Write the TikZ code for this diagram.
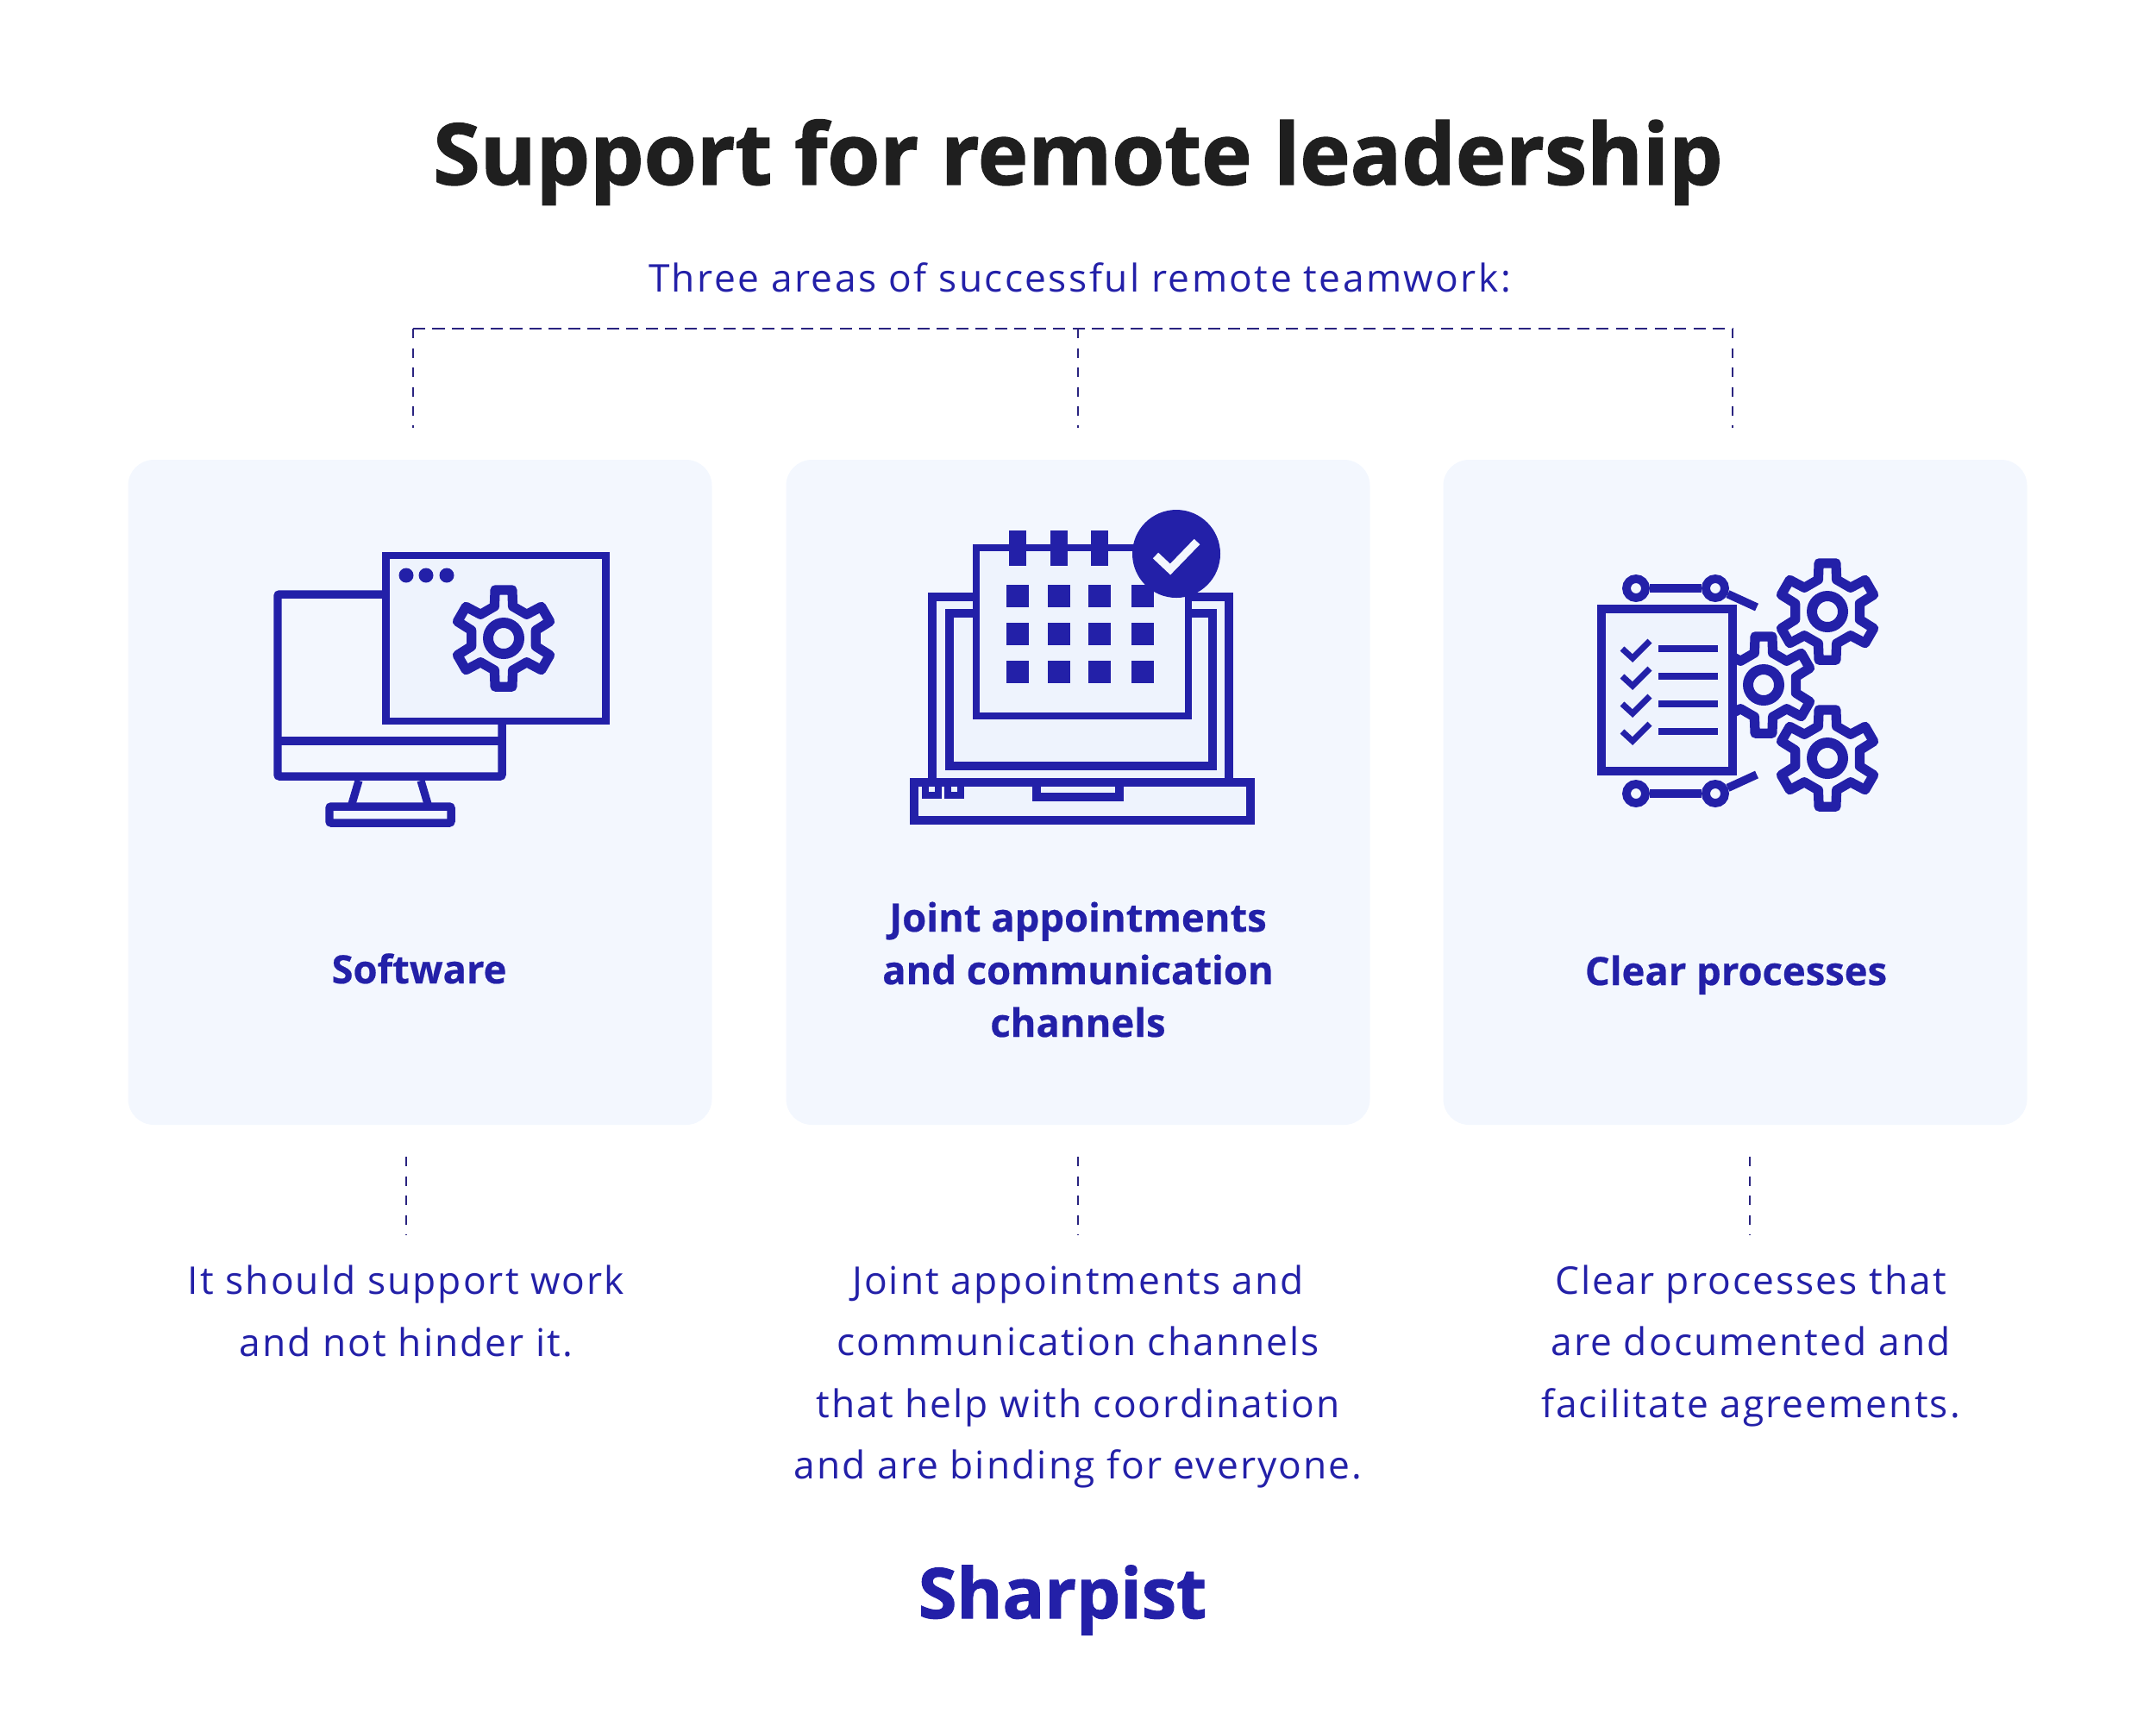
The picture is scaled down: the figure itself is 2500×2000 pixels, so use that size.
\documentclass[tikz,border=0pt]{standalone}
\usepackage{fontspec}
\setmainfont{Open Sans}
\newfontfamily\bodyfont[LetterSpace=4.7]{Open Sans}
\newfontfamily\leadfont[LetterSpace=5.5]{Open Sans}
\newfontfamily\heavyfont[BoldFeatures={FakeBold=1.4}]{Open Sans}
\newfontfamily\headfont[BoldFeatures={FakeBold=0.5}]{Open Sans}
\definecolor{inkblue}{HTML}{2320A8}
\definecolor{dashblue}{HTML}{2A2480}
\definecolor{cardfill}{HTML}{F3F7FE}
\definecolor{iconfill}{HTML}{EEF3FD}
\definecolor{titleink}{HTML}{1F1F1F}
\tikzset{
  card/.style={fill=cardfill, rounded corners=8.5pt, minimum width=6.77cm, minimum height=7.71cm, inner sep=0},
  guide/.style={dashblue, line width=0.6pt, dash pattern=on 3.2pt off 3.2pt},
  guidewide/.style={dashblue, line width=0.5pt, dash pattern=on 4pt off 2.4pt},
  heading/.style={inkblue, align=center, font=\headfont\bfseries\fontsize{12.9pt}{17.4pt}\selectfont},
  bodytext/.style={inkblue, align=center, font=\bodyfont\fontsize{12.6pt}{20.35pt}\selectfont},
  icon/.style={inkblue, line width=2.7pt, line join=miter},
  gearicon/.pic={
    \draw[inkblue, line width=3.2pt, line join=round] (14:38.5)
      \foreach \a in {30,90,150,210,270,330}{ -- (\a-16:38.5) -- (\a-10:57) -- (\a+10:57) -- (\a+16:38.5)} -- cycle;
    \draw[inkblue, line width=3.4pt] (0,0) circle (18);
  }
}
\begin{document}
\begin{tikzpicture}[x=0.1mm, y=-0.1mm]
\useasboundingbox (0,0) rectangle (2500,2000);
\node[titleink, font=\heavyfont\bfseries\fontsize{28.1pt}{34pt}\selectfont, anchor=base] (title) at (1250,214){Support for remote leadership};
\node[inkblue, font=\leadfont\fontsize{12.6pt}{15pt}\selectfont, anchor=base] (subtitle) at (1252,338){Three areas of successful remote teamwork:};
\coordinate (topleft) at (479,381);
\coordinate (topmid) at (1250,381);
\coordinate (topright) at (2009,381);
\coordinate (stubleft) at (479,496);
\coordinate (stubmid) at (1250,496);
\coordinate (stubright) at (2009,496);
\draw[guidewide] (topleft) -- (topright);
\draw[guide] (topleft) -- (stubleft);
\draw[guide, line width=0.8pt] (topmid) -- (stubmid);
\draw[guide] (topright) -- (stubright);
\node[card] (softcard) at (487,918.5){};
\node[card] (jointcard) at (1250,918.5){};
\node[card] (clearcard) at (2012,918.5){};
\node[heading, anchor=base] (softhead) at (486,1140){Software};
\node[heading, anchor=base] (jointhead) at (1250,1141){and communication};
\node[heading, anchor=base] (jointtop) at (1250,1080){Joint appointments};
\node[heading, anchor=base] (jointlow) at (1250,1202){channels};
\node[heading, anchor=base] (clearhead) at (2013,1142){Clear processes};
\coordinate (softa) at (471,1341);
\coordinate (softb) at (471,1431);
\coordinate (jointa) at (1250,1341);
\coordinate (jointb) at (1250,1431);
\coordinate (cleara) at (2029,1341);
\coordinate (clearb) at (2029,1431);
\draw[guide] (softa) -- (softb);
\draw[guide] (jointa) -- (jointb);
\draw[guide] (cleara) -- (clearb);
\node[bodytext, anchor=center] (softtext) at (471,1520){It should support work\\and not hinder it.};
\node[bodytext, anchor=center] (jointtext) at (1250,1596){Joint appointments and\\communication channels\\that help with coordination\\and are binding for everyone.};
\node[bodytext, anchor=center] (cleartext) at (2030,1560){Clear processes that\\are documented and\\facilitate agreements.};
\node[inkblue, font=\heavyfont\bfseries\fontsize{23pt}{28pt}\selectfont, anchor=base] (brand) at (1232,1876){Sharpist};
% software icon
\draw[icon, rounded corners=0.6pt] (322,689) rectangle (582,900);
\draw[icon] (322,859) -- (582,859);
\draw[icon, line width=2.6pt] (416,905) -- (408,932);
\draw[icon, line width=2.6pt] (488,905) -- (496,932);
\draw[icon, rounded corners=0.6pt] (382,935) rectangle (523,954);
\draw[icon, fill=iconfill, line width=2.4pt] (447.5,644) rectangle (702.5,836);
\fill[inkblue] (471,667) circle (8.5) (494,667) circle (8.5) (518,667) circle (8.5);
\pic at (584,740) {gearicon};
% calendar icon
\draw[icon, fill=iconfill] (1081,907) -- (1081,692) -- (1425,692) -- (1425,907);
\draw[icon, fill=iconfill] (1101,711) rectangle (1406,888);
\draw[icon, fill=iconfill] (1060,907) rectangle (1450,951);
\draw[icon] (1202,907) rectangle (1298,924);
\draw[icon, line width=2.1pt] (1073,907) -- (1073,922) -- (1088,922) -- (1088,907);
\draw[icon, line width=2.1pt] (1099,907) -- (1099,922) -- (1114,922) -- (1114,907);
\draw[icon, fill=iconfill, line width=2.5pt] (1132,635) rectangle (1378,830);
\foreach \x in {1170,1218,1265}{
  \fill[inkblue] (\x,615) rectangle (\x+20,656);
}
\foreach \x in {1167,1215,1262,1312}{
  \foreach \y in {678,722,766}{
    \fill[inkblue] (\x,\y) rectangle (\x+26,\y+26);
  }
}
\node[circle, fill=inkblue, minimum size=10.2mm, inner sep=0] (checkdot) at (1364,642){};
\draw[cardfill, line width=2.6pt] (1340,644) -- (1357,660) -- (1388,628);
% process icon
\pic at (2119,709) {gearicon};
\pic at (2045,794) {gearicon};
\pic at (2119,879) {gearicon};
\draw[icon, fill=iconfill] (1857,706) rectangle (2009,894);
\foreach \y in {752,784,816,848}{
  \draw[inkblue, line width=2pt] (1881,\y) -- (1893,\y+11) -- (1913,\y-9);
  \draw[inkblue, line width=2.3pt] (1923,\y) -- (1992,\y);
}
\node[circle, draw=inkblue, line width=2.8pt, minimum size=2.2mm, inner sep=0] (tlcirc) at (1897,682){};
\node[circle, draw=inkblue, line width=2.8pt, minimum size=2.2mm, inner sep=0] (trcirc) at (1989,682){};
\node[circle, draw=inkblue, line width=2.8pt, minimum size=2.2mm, inner sep=0] (blcirc) at (1897,920){};
\node[circle, draw=inkblue, line width=2.8pt, minimum size=2.2mm, inner sep=0] (brcirc) at (1989,920){};
\coordinate (ttail) at (2037,704);
\coordinate (btail) at (2037,898);
\draw[icon] (tlcirc) -- (trcirc);
\draw[icon] (blcirc) -- (brcirc);
\draw[icon] (trcirc) -- (ttail);
\draw[icon] (brcirc) -- (btail);
\end{tikzpicture}
\end{document}
